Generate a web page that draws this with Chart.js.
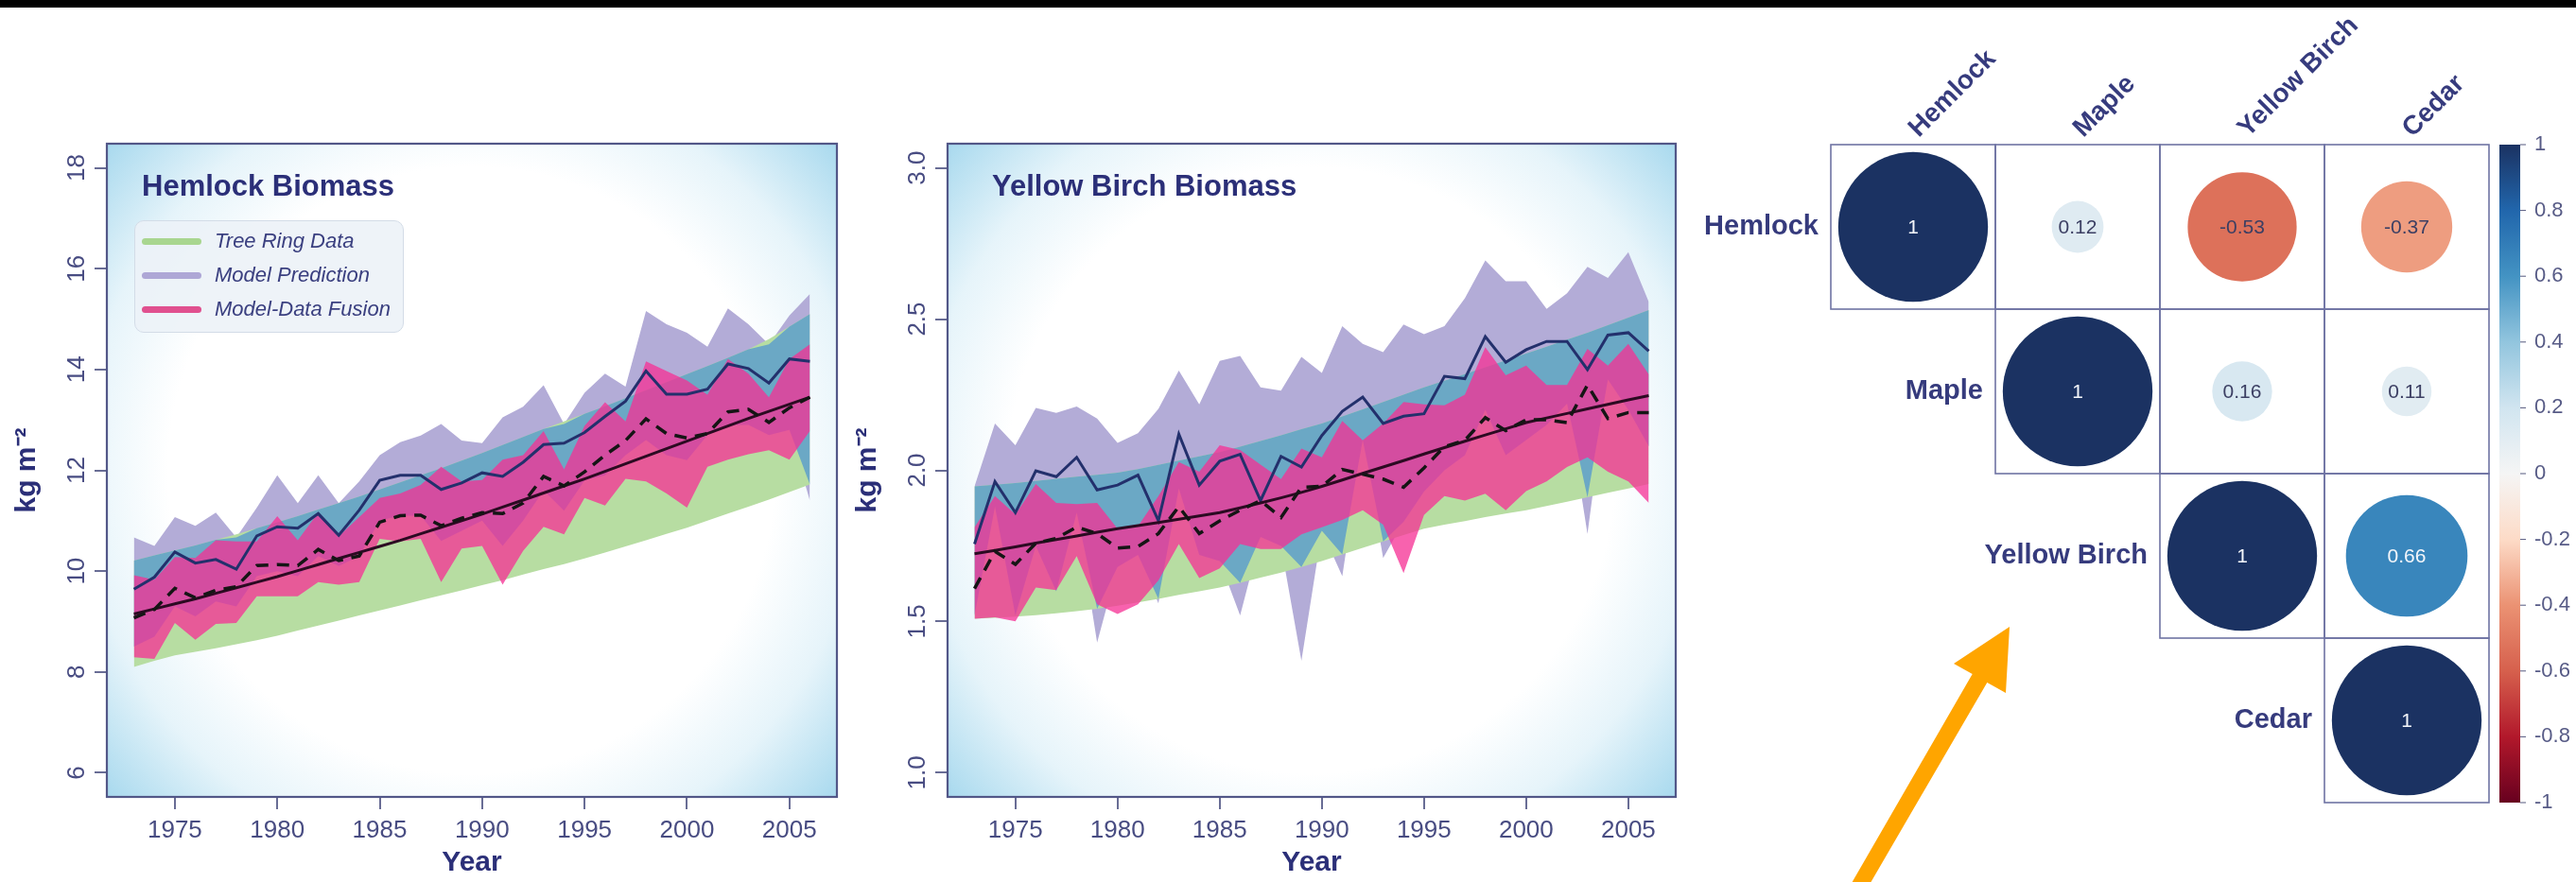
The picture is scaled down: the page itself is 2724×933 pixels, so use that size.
<!DOCTYPE html>
<html>
<head>
<meta charset="utf-8">
<script src="https://cdn.jsdelivr.net/npm/chart.js@4.4.1/dist/chart.umd.min.js"></script>
<style>
html,body{margin:0;padding:0;background:#fff;width:2724px;height:933px;overflow:hidden;position:relative;font-family:"Liberation Sans",Arial,Helvetica,sans-serif}
canvas{position:absolute;top:0}
.abs{position:absolute;white-space:nowrap}
.ttl{font-weight:bold;font-size:31px;color:#2b2f78;height:36px;line-height:36px}
.lg{font-style:italic;font-size:22px;color:#3b4080;height:26px;line-height:26px}
.ln{height:7px;border-radius:4px}
</style>
</head>
<body>
<div class="abs" style="left:0;top:0;width:2724px;height:8px;background:#000"></div>
<canvas id="c1" width="950" height="933" style="left:0px"></canvas>
<canvas id="c2" width="950" height="933" style="left:889px"></canvas>
<canvas id="c3" width="934" height="933" style="left:1790px"></canvas>

<div class="abs ttl" style="left:150px;top:179px">Hemlock Biomass</div>
<div class="abs ttl" style="left:1049px;top:179px">Yellow Birch Biomass</div>

<div class="abs" style="left:142px;top:233px;width:285px;height:119px;border-radius:10px;background:rgba(236,241,247,0.88);border:1px solid #d3dce7;box-sizing:border-box"></div>
<div class="abs ln" style="left:150px;top:252px;width:63px;background:#a9d690"></div>
<div class="abs ln" style="left:150px;top:288px;width:63px;background:#aea7d6"></div>
<div class="abs ln" style="left:150px;top:324px;width:63px;background:#e0508f"></div>
<div class="abs lg" style="left:227px;top:242px">Tree Ring Data</div>
<div class="abs lg" style="left:227px;top:278px">Model Prediction</div>
<div class="abs lg" style="left:227px;top:314px">Model-Data Fusion</div>

<svg class="abs" style="left:0;top:0" width="2724" height="933">
  <polygon points="2125,663 2066,702 2085.7,713 1954.6,940 1974.4,940 2101.3,722 2121,733" fill="#ffa500"/>
</svg>

<script>
// ---------------- DATA ----------------
const years = [1973,1974,1975,1976,1977,1978,1979,1980,1981,1982,1983,1984,1985,1986,1987,1988,1989,1990,
               1991,1992,1993,1994,1995,1996,1997,1998,1999,2000,2001,2002,2003,2004,2005,2006];
const xTicks = [1975,1980,1985,1990,1995,2000,2005];

// Hemlock biomass (kg m-2)
const hemTicks = [6,8,10,12,14,16,18];
const hemGreenLo = [8.10,8.22,8.33,8.40,8.47,8.55,8.63,8.72,8.82,8.92,9.02,9.12,9.22,9.32,9.42,9.52,9.62,9.72,
                    9.82,9.93,10.04,10.14,10.25,10.37,10.49,10.61,10.74,10.86,11.00,11.14,11.28,11.42,11.57,11.72];
const hemGreenHi = [10.21,10.31,10.41,10.51,10.62,10.73,10.85,10.97,11.09,11.22,11.35,11.48,11.62,11.76,11.90,12.04,12.19,12.34,
                    12.50,12.66,12.82,12.97,13.12,13.27,13.43,13.59,13.75,13.91,14.07,14.23,14.40,14.60,14.85,15.10];
const hemPurpleLo = [8.5,8.7,9.3,9.1,9.4,9.3,9.9,10.0,9.9,10.3,10.1,10.3,11.0,11.1,11.1,10.6,10.8,11.0,
                     10.5,11.0,11.6,11.2,11.8,11.9,12.3,12.6,12.3,12.2,12.7,12.9,12.9,12.7,12.8,11.4];
const hemPurpleHi = [10.67,10.50,11.07,10.90,11.16,10.67,11.26,11.90,11.35,11.90,11.35,11.78,12.30,12.56,12.69,12.92,12.59,12.54,
                     13.05,13.26,13.69,12.92,13.54,13.92,13.66,15.16,14.90,14.73,14.45,15.21,14.90,14.50,15.07,15.50];
const hemPinkLo = [8.29,8.26,8.97,8.64,8.95,8.97,9.50,9.50,9.50,9.78,9.73,9.78,10.64,10.59,10.64,9.78,10.45,10.50,
                   9.73,10.40,10.88,10.73,11.45,11.30,11.83,11.78,11.54,11.26,12.07,12.21,12.32,12.40,12.21,12.78];
const hemPinkHi = [9.92,9.83,10.28,10.26,10.61,10.59,10.59,11.09,10.61,11.16,10.69,11.07,11.45,11.54,11.71,12.07,11.78,11.81,
                   12.21,12.30,12.78,12.02,12.88,13.35,12.97,14.16,13.97,13.78,13.50,14.21,13.92,13.45,14.21,14.50];
const hemModelMean = [9.64,9.88,10.38,10.16,10.23,10.04,10.70,10.88,10.85,11.14,10.71,11.21,11.80,11.90,11.90,11.62,11.75,11.95,
                      11.88,12.16,12.51,12.54,12.75,13.07,13.37,13.97,13.51,13.51,13.61,14.11,14.02,13.73,14.21,14.16];
const hemFusionMean = [9.07,9.24,9.66,9.47,9.62,9.69,10.11,10.13,10.11,10.43,10.21,10.30,10.97,11.10,11.11,10.90,11.05,11.16,
                       11.14,11.35,11.88,11.69,11.97,12.30,12.59,13.02,12.73,12.64,12.73,13.16,13.21,12.95,13.24,13.45];
const hemTreeMean = [9.15,9.25,9.35,9.45,9.56,9.67,9.78,9.89,10.01,10.13,10.25,10.37,10.49,10.61,10.74,10.87,11.00,11.13,
                     11.27,11.41,11.55,11.69,11.83,11.98,12.13,12.28,12.43,12.58,12.73,12.88,13.03,13.17,13.31,13.45];

// Yellow birch biomass (kg m-2)
const ybTicks = [1.0,1.5,2.0,2.5,3.0];
const ybGreenLo = [1.509,1.512,1.516,1.521,1.527,1.534,1.542,1.552,1.563,1.575,1.588,1.600,1.612,1.628,1.645,1.662,1.680,1.700,
                   1.722,1.744,1.765,1.786,1.807,1.820,1.832,1.845,1.857,1.868,1.882,1.896,1.911,1.926,1.940,1.955];
const ybGreenHi = [1.947,1.952,1.958,1.965,1.972,1.979,1.985,1.992,2.004,2.018,2.032,2.046,2.060,2.078,2.097,2.116,2.136,2.155,
                   2.178,2.202,2.226,2.250,2.274,2.296,2.318,2.341,2.363,2.386,2.409,2.432,2.455,2.480,2.505,2.530];
const ybPurpleLo = [1.52,1.88,1.52,1.75,1.60,1.86,1.43,1.68,1.72,1.56,1.94,1.72,1.70,1.52,1.78,1.75,1.37,1.80,
                    1.65,2.10,1.71,1.83,1.93,2.00,2.05,2.20,2.05,2.10,2.15,2.22,1.79,2.30,2.20,2.08];
const ybPurpleHi = [1.947,2.155,2.083,2.206,2.190,2.211,2.171,2.091,2.123,2.203,2.330,2.218,2.362,2.378,2.274,2.263,2.375,2.322,
                    2.477,2.418,2.391,2.482,2.450,2.477,2.569,2.694,2.625,2.625,2.534,2.585,2.673,2.636,2.721,2.557];
const ybPinkLo = [1.509,1.514,1.501,1.612,1.604,1.716,1.557,1.525,1.557,1.636,1.756,1.644,1.676,1.756,1.740,1.740,1.788,1.812,
                  1.836,1.868,1.820,1.660,1.852,1.915,1.900,1.923,1.868,1.931,1.963,2.011,2.043,1.995,1.963,1.892];
const ybPinkHi = [1.812,1.915,1.855,1.955,1.892,1.888,1.892,1.807,1.815,1.915,2.027,1.995,2.083,2.067,2.019,1.971,2.072,2.043,
                  2.163,2.099,2.155,2.226,2.218,2.215,2.250,2.407,2.314,2.346,2.282,2.282,2.402,2.346,2.418,2.317];
const ybModelMean = [1.756,1.963,1.860,1.998,1.979,2.043,1.935,1.951,1.984,1.833,2.120,1.951,2.030,2.053,1.900,2.046,2.011,2.115,
                     2.195,2.242,2.155,2.179,2.187,2.311,2.303,2.442,2.357,2.399,2.426,2.426,2.333,2.447,2.455,2.394];
const ybFusionMean = [1.609,1.732,1.689,1.759,1.775,1.812,1.791,1.743,1.748,1.791,1.880,1.791,1.833,1.868,1.900,1.844,1.944,1.947,
                      2.003,1.987,1.971,1.944,2.008,2.078,2.099,2.174,2.131,2.167,2.167,2.158,2.282,2.171,2.191,2.191];
const ybTreeMean = [1.724,1.735,1.747,1.759,1.771,1.783,1.795,1.807,1.817,1.827,1.838,1.849,1.860,1.876,1.892,1.909,1.927,1.947,
                    1.968,1.990,2.011,2.032,2.054,2.075,2.096,2.117,2.137,2.158,2.173,2.188,2.203,2.218,2.233,2.247];

// Correlation matrix
const corrNames = ['Hemlock','Maple','Yellow Birch','Cedar'];
const corrRows = [
  [1, 0.12, -0.53, -0.37],
  [0.12, 1, 0.16, 0.11],
  [-0.53, 0.16, 1, 0.66],
  [-0.37, 0.11, 0.66, 1]
];
const cbTicks = [-1,-0.8,-0.6,-0.4,-0.2,0,0.2,0.4,0.6,0.8,1];
const cbColors = ['#67001f','#b2182b','#d6604d','#eb9273','#fddbc7','#f5f5f5','#d1e5f0','#92c5de','#4393c3','#2166ac','#1b3262'];

// ---------------- STYLE ----------------
Chart.defaults.font.family = '"Liberation Sans", Arial, Helvetica, sans-serif';
const COL = {
  lavender:'#b3acd7', green:'#b7dda2', teal:'#6ba8c5', pink:'rgba(246,48,148,0.76)',
  navy:'#23306c', tree:'#2c0a22', dash:'#151515', tick:'#484c82', axis:'#696d95', box:'#525788', title:'#2b2f78'
};

const vignette = {
  id:'vignette',
  beforeDatasetsDraw(chart){
    const {ctx, chartArea:a} = chart;
    const cx=(a.left+a.right)/2, cy=(a.top+a.bottom)/2;
    const R=Math.hypot(a.width/2, a.height/2);
    const g=ctx.createRadialGradient(cx,cy,0,cx,cy,R);
    g.addColorStop(0,'#ffffff'); g.addColorStop(0.62,'#ffffff');
    g.addColorStop(0.8,'#e6f4fa'); g.addColorStop(1,'#a8d9ee');
    ctx.save(); ctx.fillStyle=g; ctx.fillRect(a.left,a.top,a.width,a.height); ctx.restore();
  },
  afterDatasetsDraw(chart){
    const {ctx, chartArea:a} = chart;
    ctx.save(); ctx.strokeStyle=COL.box; ctx.lineWidth=2.2;
    ctx.strokeRect(a.left,a.top,a.width,a.height); ctx.restore();
  }
};

function makePanel(id, P){
  const pts = arr => years.map((x,i)=>({x, y:arr[i]}));
  const tealLo = years.map((_,i)=>Math.max(P.greenLo[i], P.purpleLo[i]));
  const tealHi = years.map((_,i)=>Math.max(tealLo[i], Math.min(P.greenHi[i], P.purpleHi[i])));
  const band = (lo, hi, color, order) => [
    {data:pts(lo), borderWidth:0, pointRadius:0, fill:false, order},
    {data:pts(hi), borderWidth:0, pointRadius:0, fill:'-1', backgroundColor:color, order}
  ];
  const ext = 0.04*(P.ticks[P.ticks.length-1]-P.ticks[0]);
  const xExt = 0.04*(years[years.length-1]-years[0]);
  const grid = {drawOnChartArea:false, drawTicks:true, tickLength:13, color:COL.axis, lineWidth:2};
  return new Chart(document.getElementById(id), {
    type:'line',
    data:{datasets:[
      ...band(P.purpleLo, P.purpleHi, COL.lavender, 6),
      ...band(P.greenLo, P.greenHi, COL.green, 5),
      ...band(tealLo, tealHi, COL.teal, 4),
      ...band(P.pinkLo, P.pinkHi, COL.pink, 3),
      {data:pts(P.modelMean), borderColor:COL.navy, borderWidth:3, pointRadius:0, fill:false, order:2},
      {data:pts(P.treeMean), borderColor:COL.tree, borderWidth:3, pointRadius:0, fill:false, order:1},
      {data:pts(P.fusionMean), borderColor:COL.dash, borderWidth:3.5, borderDash:[13,9], pointRadius:0, fill:false, order:0}
    ]},
    options:{
      responsive:false, animation:false, events:[],
      elements:{line:{tension:0}},
      layout:{padding:{left:0, top:152, right:P.padRight, bottom:0}},
      plugins:{legend:{display:false}, tooltip:{enabled:false}},
      scales:{
        x:{type:'linear', min:years[0]-xExt, max:years[years.length-1]+xExt,
           afterBuildTicks:s=>{s.ticks = xTicks.map(v=>({value:v}));},
           afterFit:s=>{s.height=90;},
           ticks:{callback:v=>String(v), font:{size:26}, color:COL.tick, padding:7, autoSkip:false, maxRotation:0},
           grid, border:{display:false},
           title:{display:true, text:'Year', font:{size:30, weight:'bold'}, color:COL.title, padding:{top:0,bottom:2}}},
        y:{type:'linear', min:P.ticks[0]-ext, max:P.ticks[P.ticks.length-1]+ext,
           afterBuildTicks:s=>{s.ticks = P.ticks.map(v=>({value:v}));},
           afterFit:s=>{s.width=113;},
           ticks:{callback:P.fmt, font:{size:26}, color:COL.tick, padding:P.tickPad, minRotation:90, maxRotation:90, crossAlign:'center', autoSkip:false},
           grid, border:{display:false},
           title:{display:true, text:'kg m\u207B\u00B2', font:{size:30, weight:'bold'}, color:COL.title, padding:{top:11,bottom:0}}}
      }
    },
    plugins:[vignette]
  });
}

makePanel('c1', {ticks:hemTicks, fmt:v=>String(v), tickPad:4, padRight:65,
  greenLo:hemGreenLo, greenHi:hemGreenHi, purpleLo:hemPurpleLo, purpleHi:hemPurpleHi,
  pinkLo:hemPinkLo, pinkHi:hemPinkHi, modelMean:hemModelMean, fusionMean:hemFusionMean, treeMean:hemTreeMean});
makePanel('c2', {ticks:ybTicks, fmt:v=>v.toFixed(1), tickPad:0, padRight:67,
  greenLo:ybGreenLo, greenHi:ybGreenHi, purpleLo:ybPurpleLo, purpleHi:ybPurpleHi,
  pinkLo:ybPinkLo, pinkHi:ybPinkHi, modelMean:ybModelMean, fusionMean:ybFusionMean, treeMean:ybTreeMean});

// ---------------- CORRPLOT ----------------
function hexRgb(h){return [1,3,5].map(i=>parseInt(h.substr(i,2),16));}
function colorFor(v){
  for(let k=0;k<cbTicks.length-1;k++){
    if(v<=cbTicks[k+1]+1e-9){
      const t=(v-cbTicks[k])/(cbTicks[k+1]-cbTicks[k]);
      const a=hexRgb(cbColors[k]), b=hexRgb(cbColors[k+1]);
      return 'rgb('+a.map((c,i)=>Math.round(c+(b[i]-c)*t)).join(',')+')';
    }
  }
  return cbColors[cbColors.length-1];
}
const corrPoints = [];
corrRows.forEach((row,i)=>row.forEach((v,j)=>{ if(j>=i) corrPoints.push({x:j, y:i, v}); }));
const cellR = c => Math.abs(c.chart.scales.x.getPixelForValue(1)-c.chart.scales.x.getPixelForValue(0))*0.455;

const corrDecor = {
  id:'corrDecor',
  afterDatasetsDraw(chart){
    const {ctx, chartArea:a, scales:{x, y, cb}} = chart;
    ctx.save();
    ctx.strokeStyle='#6f73a3'; ctx.lineWidth=1.6;
    corrPoints.forEach(p=>{
      const l=x.getPixelForValue(p.x-0.5), r=x.getPixelForValue(p.x+0.5);
      const t=y.getPixelForValue(p.y-0.5), b=y.getPixelForValue(p.y+0.5);
      ctx.strokeRect(l,t,r-l,b-t);
    });
    const meta = chart.getDatasetMeta(0);
    ctx.font='21px "Liberation Sans", Arial, sans-serif';
    ctx.textAlign='center'; ctx.textBaseline='middle';
    meta.data.forEach((el,k)=>{
      const v=corrPoints[k].v;
      ctx.fillStyle = (Math.abs(v)>=0.6) ? '#f4f6fa' : '#3c3f63';
      ctx.fillText(v===1?'1':v.toFixed(2), el.x, el.y+1);
    });
    ctx.fillStyle='#363b7d'; ctx.font='bold 29px "Liberation Sans", Arial, sans-serif';
    ctx.textAlign='right';
    corrNames.forEach((n,i)=>ctx.fillText(n, x.getPixelForValue(i-0.5)-13, y.getPixelForValue(i)));
    ctx.font='bold 28px "Liberation Sans", Arial, sans-serif';
    ctx.textAlign='left'; ctx.textBaseline='alphabetic';
    corrNames.forEach((n,j)=>{
      ctx.save(); ctx.translate(x.getPixelForValue(j)+6, a.top-7); ctx.rotate(-Math.PI/4);
      ctx.fillText(n,0,0); ctx.restore();
    });
    const bx=a.right+11, bw=22, top=cb.getPixelForValue(1), bot=cb.getPixelForValue(-1);
    const g=ctx.createLinearGradient(0,bot,0,top);
    cbTicks.forEach((t,k)=>g.addColorStop((t+1)/2, cbColors[k]));
    ctx.fillStyle=g; ctx.fillRect(bx,top,bw,bot-top);
    ctx.strokeStyle='#55597f'; ctx.lineWidth=1;
    cbTicks.forEach(t=>{const py=cb.getPixelForValue(t); ctx.beginPath(); ctx.moveTo(bx+bw,py); ctx.lineTo(bx+bw+6,py); ctx.stroke();});
    ctx.restore();
  }
};

new Chart(document.getElementById('c3'), {
  type:'scatter',
  data:{datasets:[{
    data:corrPoints,
    pointRadius:c=>cellR(c)*Math.sqrt(Math.abs(c.raw ? c.raw.v : 0)),
    pointBackgroundColor:c=>colorFor(c.raw ? c.raw.v : 0),
    pointBorderWidth:0, pointHoverRadius:0, showLine:false, clip:false
  }]},
  options:{
    responsive:false, animation:false, events:[],
    layout:{padding:{left:146, top:153, right:0, bottom:84}},
    plugins:{legend:{display:false}, tooltip:{enabled:false}},
    scales:{
      x:{type:'linear', min:-0.5, max:3.5, display:false},
      y:{type:'linear', min:-0.5, max:3.5, reverse:true, display:false},
      cb:{type:'linear', position:'right', min:-1, max:1,
          afterBuildTicks:s=>{s.ticks = cbTicks.map(v=>({value:v}));},
          afterFit:s=>{s.width=92;},
          ticks:{callback:v=>(Math.abs(v)<1e-9?'0':String(Math.round(v*10)/10)), font:{size:22}, color:'#575b86', padding:48, autoSkip:false},
          grid:{display:false, drawTicks:false}, border:{display:false}}
    }
  },
  plugins:[corrDecor]
});
</script>
</body>
</html>
